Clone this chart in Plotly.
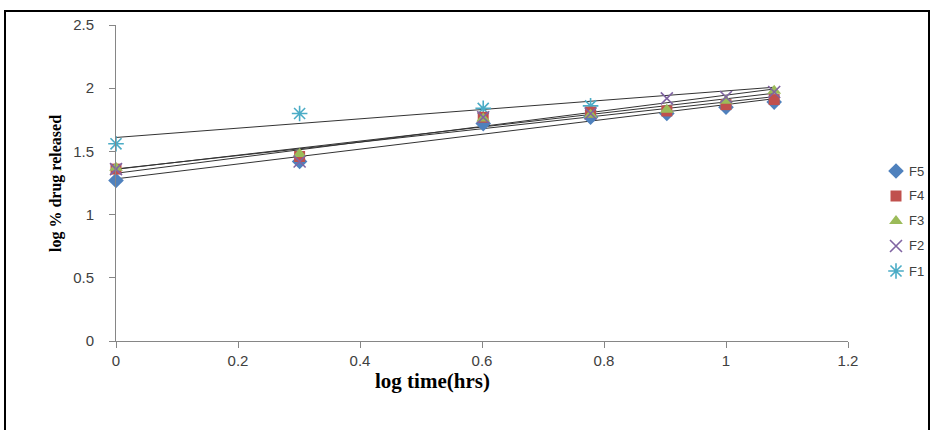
import numpy as np
import plotly.graph_objects as go

# log time (hrs) sampling points
log_time = [0.0, 0.301, 0.602, 0.778, 0.903, 1.0, 1.079]

# log % drug released for each formulation
f5 = [1.27, 1.42, 1.72, 1.77, 1.80, 1.85, 1.89]
f4 = [1.36, 1.46, 1.77, 1.81, 1.82, 1.87, 1.91]
f3 = [1.37, 1.48, 1.76, 1.79, 1.83, 1.90, 1.98]
f2 = [1.36, 1.42, 1.77, 1.80, 1.92, 1.93, 1.97]
f1 = [1.56, 1.80, 1.84, 1.86]

x_ticks = [0, 0.2, 0.4, 0.6, 0.8, 1, 1.2]
y_ticks = [0, 0.5, 1, 1.5, 2, 2.5]

names = ["F5", "F4", "F3", "F2", "F1"]
values = [f5, f4, f3, f2, f1]

# marker styles per formulation
styles = {
    "F5": dict(symbol="diamond", color="#4F81BD", size=12),
    "F4": dict(symbol="square", color="#C0504D", size=11),
    "F3": dict(symbol="triangle-up", color="#9BBB59", size=12),
    "F2": dict(symbol="x-thin-open", color="#8064A2", size=12),
    "F1": dict(symbol="asterisk-open", color="#4BACC6", size=13),
}
draw_order = ["F1", "F5", "F4", "F3", "F2"]

W, H = 933, 430
# plot area in pixels
PL, PR, PT, PB = 116, 848, 25, 341

def px(x):
    return x / W

def py(y):
    return 1 - y / H

tick_font = dict(family="Liberation Sans Narrow, Liberation Sans, Arial", size=15, color="#404040")

fig = go.Figure()
x_full = np.array(log_time)

# linear trendlines over the whole time range
for name in names:
    vals = np.array(values[names.index(name)])
    xs = x_full[:len(vals)]
    slope, intercept = np.polyfit(xs, vals, 1)
    xe = np.array([x_full.min(), x_full.max()])
    fig.add_trace(go.Scatter(
        x=xe, y=slope * xe + intercept, mode="lines",
        line=dict(color="#333333", width=1), showlegend=False, hoverinfo="skip",
    ))

def marker_of(name):
    st = styles[name]
    lw = 1.6 if "open" in st["symbol"] else 0
    return dict(symbol=st["symbol"], color=st["color"], size=st["size"],
                line=dict(color=st["color"], width=lw))

for name in draw_order:
    vals = values[names.index(name)]
    fig.add_trace(go.Scatter(
        x=log_time[:len(vals)], y=vals, mode="markers", name=name,
        marker=marker_of(name), showlegend=False, cliponaxis=False,
    ))

# legend drawn on a pixel-space overlay axis
leg_x = 896
leg_y0, leg_dy = 171, 25
for i, name in enumerate(names):
    fig.add_trace(go.Scatter(
        x=[leg_x], y=[leg_y0 + i * leg_dy], mode="markers",
        marker=marker_of(name), xaxis="x2", yaxis="y2",
        showlegend=False, hoverinfo="skip", cliponaxis=False,
    ))
    fig.add_annotation(
        x=px(leg_x + 11), y=py(leg_y0 + i * leg_dy), xref="paper", yref="paper",
        text=name, showarrow=False, xanchor="left", yanchor="middle",
        font=dict(family="Liberation Sans, Arial", size=13, color="#404040"),
    )

# axis titles
fig.add_annotation(
    x=px(432), y=py(381), xref="paper", yref="paper", showarrow=False,
    text="<b>log time(hrs)</b>", xanchor="center", yanchor="middle",
    font=dict(family="Liberation Serif, Times New Roman", size=21, color="black"),
)
fig.add_annotation(
    x=px(56), y=py(184), xref="paper", yref="paper", showarrow=False,
    text="<b>log % drug released</b>", textangle=-90,
    xanchor="center", yanchor="middle",
    font=dict(family="Liberation Serif, Times New Roman", size=16, color="black"),
)

fig.update_layout(
    width=W, height=H,
    margin=dict(l=0, r=0, t=0, b=0),
    plot_bgcolor="rgba(0,0,0,0)", paper_bgcolor="white",
    showlegend=False,
    xaxis=dict(
        domain=[px(PL), px(PR)],
        range=[0, 1.2], tickvals=x_ticks, ticktext=[f"{t:g}" for t in x_ticks],
        showgrid=False, zeroline=False, showline=True, automargin=False,
        linecolor="#868686", linewidth=1, ticks="outside", ticklen=6,
        tickcolor="#868686", tickfont=tick_font,
    ),
    yaxis=dict(
        domain=[py(PB), py(PT)],
        range=[0, 2.5], tickvals=y_ticks, ticktext=[f"{t:g}" for t in y_ticks],
        showgrid=False, zeroline=False, showline=True, automargin=False,
        linecolor="#868686", linewidth=1, ticks="outside", ticklen=6,
        tickcolor="#868686", tickfont=tick_font, ticklabelstandoff=12,
    ),
    xaxis2=dict(domain=[0, 1], range=[0, W], visible=False, anchor="y2"),
    yaxis2=dict(domain=[0, 1], range=[H, 0], visible=False, anchor="x2"),
    shapes=[dict(type="rect", xref="paper", yref="paper",
                 x0=px(5), x1=px(929), y0=py(445), y1=py(11),
                 line=dict(color="black", width=2), layer="above")],
)

fig.write_html("out.html")
